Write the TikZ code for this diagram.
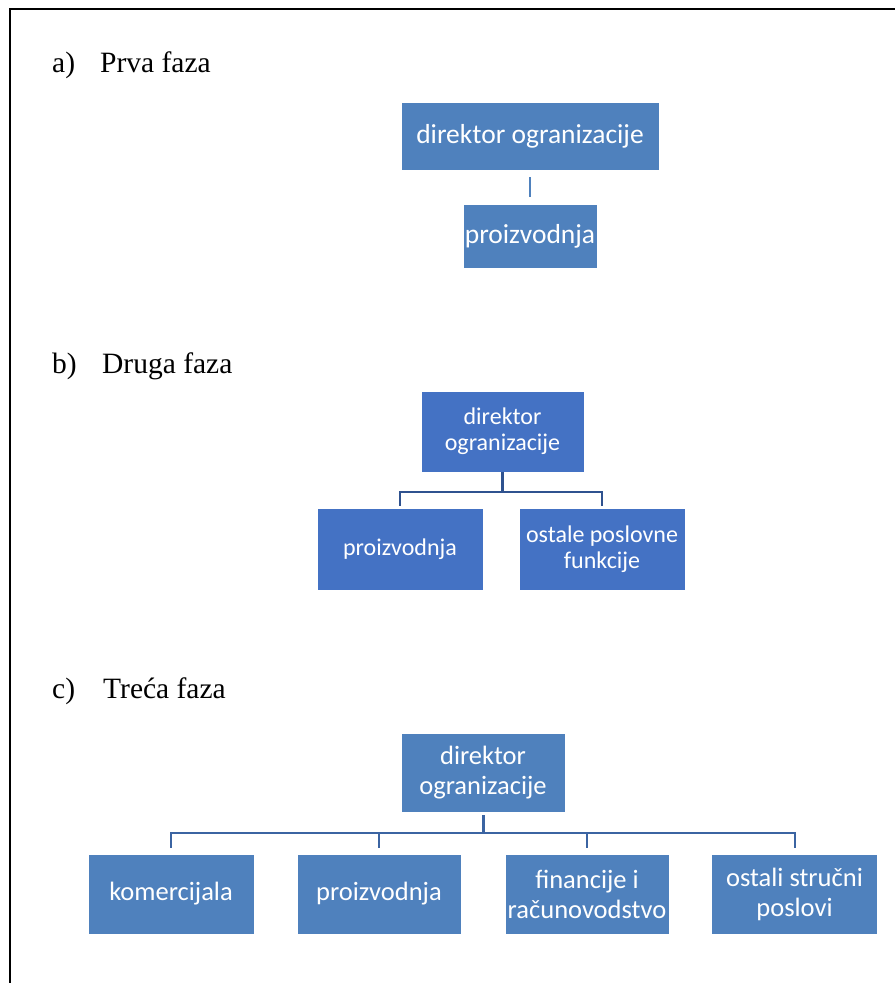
\documentclass[tikz,border=0pt]{standalone}
\usepackage{fontspec}
\setmainfont{Liberation Serif}
\newfontfamily\boxfont{Carlito}
\definecolor{officeblue}{HTML}{4F81BD}
\definecolor{accentblue}{HTML}{4472C4}
\definecolor{linkblue}{HTML}{3B64A2}
\definecolor{linkdark}{HTML}{2F528F}
\tikzset{
  unitbox/.style={rectangle, fill=officeblue, draw=white, line width=0.8pt,
    text=white, align=center, inner sep=0pt,
    font=\boxfont\fontsize{26.5}{30}\selectfont},
  unitboxb/.style={unitbox, fill=accentblue,
    font=\boxfont\fontsize{24}{26}\selectfont},
  phase/.style={anchor=base west, inner sep=0pt,
    font=\fontsize{29.5}{33}\selectfont},
  linka/.style={draw=officeblue, line width=2pt},
  linkb/.style={draw=linkdark, line width=2pt},
  linkc/.style={draw=linkblue, line width=2pt}
}

\begin{document}
\begin{tikzpicture}[x=1pt, y=-1pt]
    \useasboundingbox (0,0) rectangle (895,983);
    % frame
    \draw [line width=2.5pt] (10,983) -- (10,9) -- (895,9);

    % a) prva faza
    \node [phase] (titleA) at (52,72) {\makebox[48pt][l]{a)}Prva faza};
    \node [unitbox, minimum width=258, minimum height=68, font=\boxfont\fontsize{27.5}{30}\selectfont] (dirA) at (530,136) {direktor ogranizacije};
    \node [unitbox, minimum width=134, minimum height=64, font=\boxfont\fontsize{27.5}{30}\selectfont] (proA) at (530,236) {proizvodnja};
    \draw [linka] ([yshift=-7]dirA.south) -- ([yshift=7]proA.north);

    % b) druga faza
    \node [phase] (titleB) at (52,373) {\makebox[50pt][l]{b)}Druga faza};
    \node [unitboxb, minimum width=163, minimum height=81] (dirB) at (502.5,431.5) {direktor\\ogranizacije};
    \node [unitboxb, minimum width=166, minimum height=82] (proB) at (400,549) {proizvodnja};
    \node [unitboxb, minimum width=166, minimum height=82] (ostB) at (602,549) {ostale poslovne\\funkcije};
    \coordinate (busB) at ([yshift=-20]dirB.south);
    \draw [linkb, line width=3pt] (dirB.south) -- (busB);
    \draw [linkb] ([yshift=2]proB.north) |- (busB) -| ([yshift=2]ostB.north);

    % c) treca faza
    \node [phase] (titleC) at (52,698) {\makebox[51pt][l]{c)}Treća faza};
    \node [unitbox, minimum width=164, minimum height=79] (dirC) at (483,772.5) {direktor\\ogranizacije};
    \node [unitbox, minimum width=166, minimum height=80] (komC) at (171,894) {komercijala};
    \node [unitbox, minimum width=164, minimum height=80] (proC) at (379,894) {proizvodnja};
    \node [unitbox, minimum width=164, minimum height=80] (finC) at (587,894) {financije i\\računovodstvo};
    \node [unitbox, minimum width=166, minimum height=80] (ostC) at (794.5,894) {ostali stručni\\poslovi};
    \coordinate (busC) at ([yshift=-21]dirC.south);
    \draw [linkc, line width=3pt] ([yshift=-3]dirC.south) -- (busC);
    \draw [linkc] ([yshift=6]komC.north) |- (busC) -| ([yshift=6]ostC.north);
    \draw [linkc] ([yshift=6]proC.north) -- (proC.north |- busC);
    \draw [linkc] ([yshift=6]finC.north) -- (finC.north |- busC);
  \end{tikzpicture}
\end{document}
